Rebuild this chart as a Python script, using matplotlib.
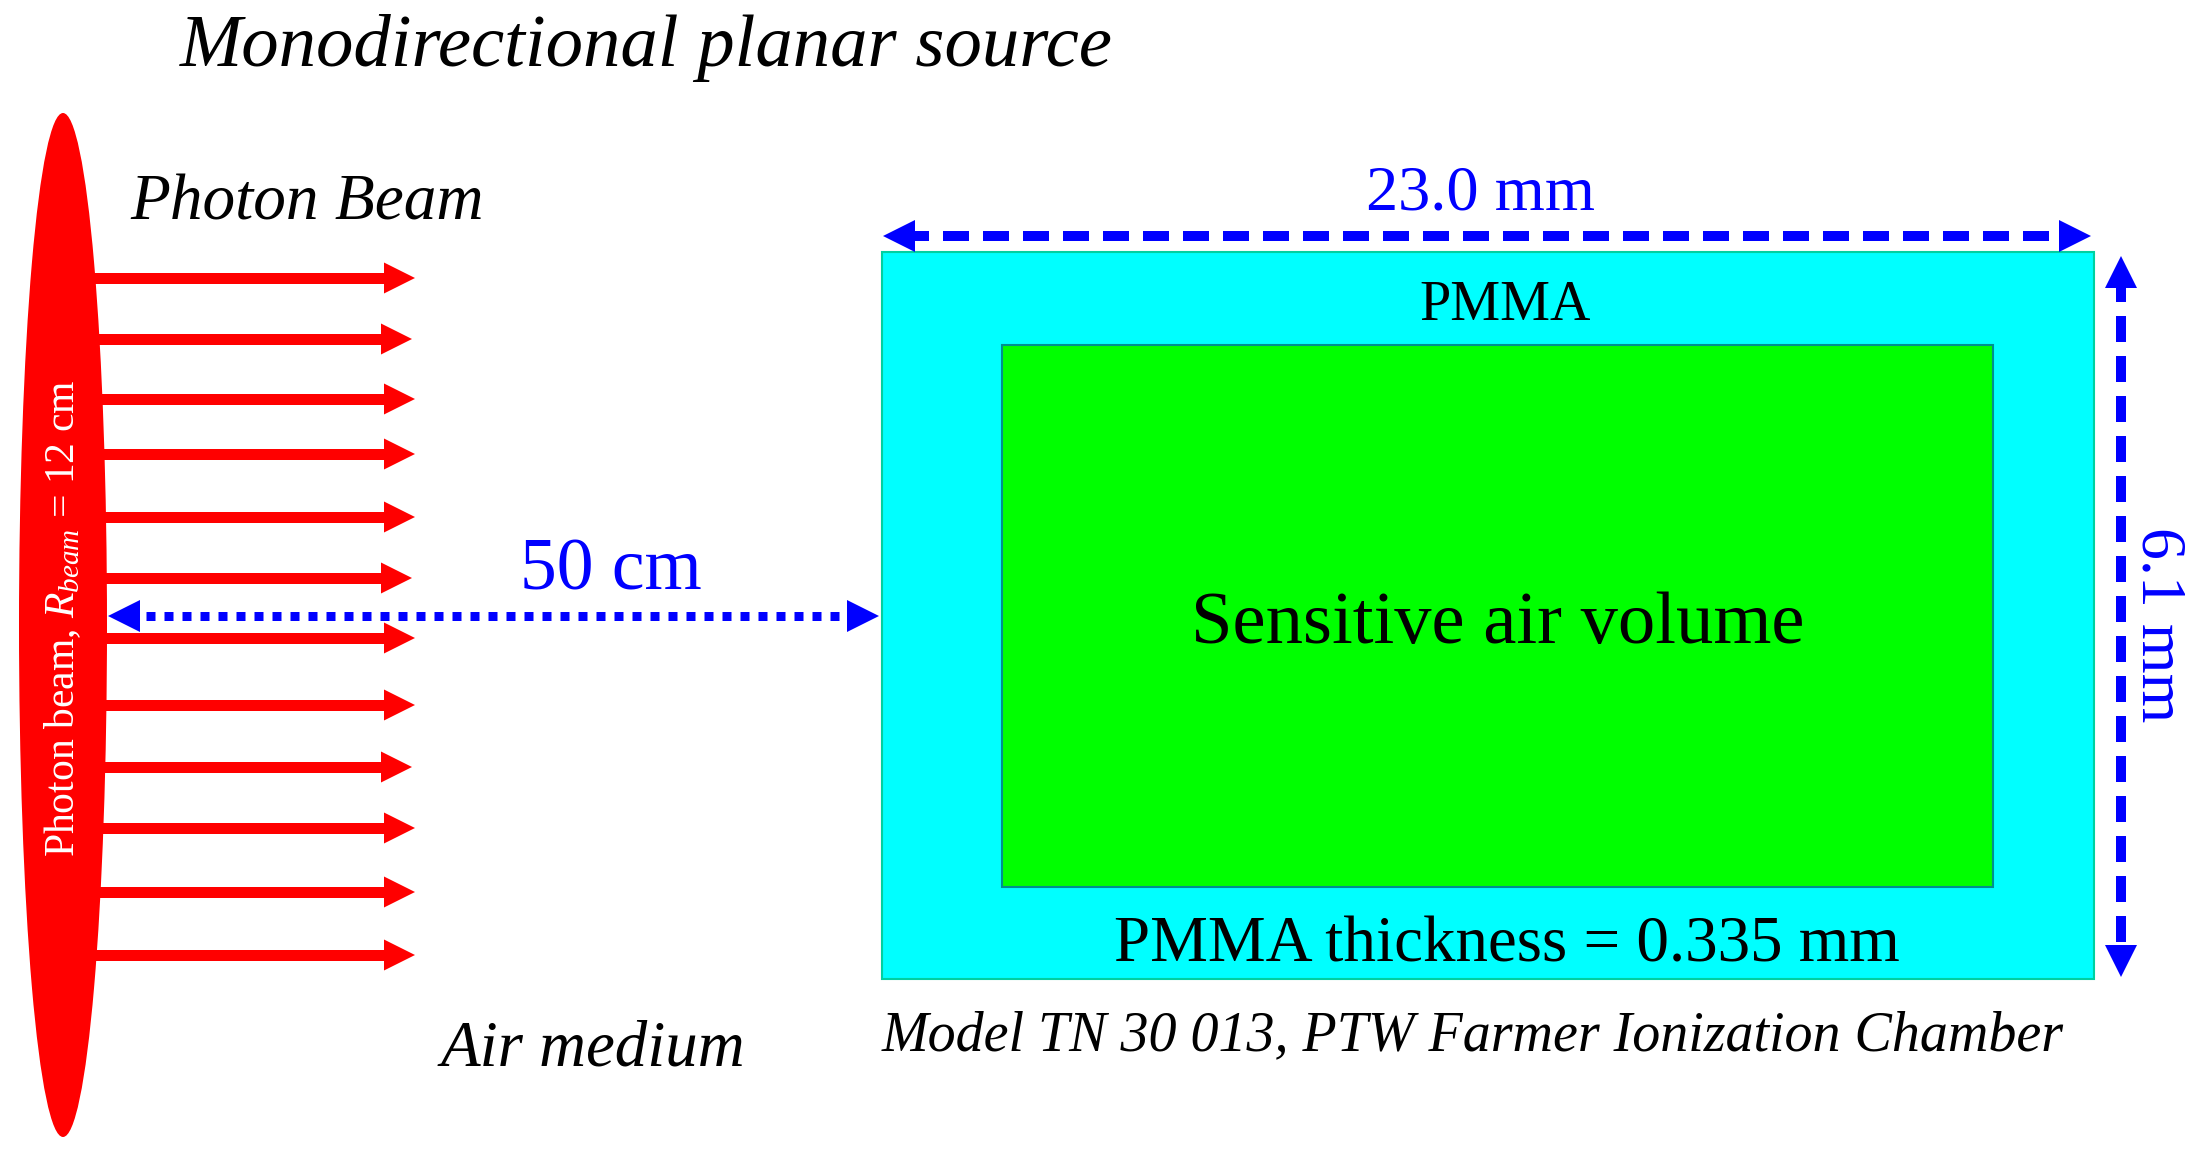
import matplotlib

matplotlib.use("Agg")
import matplotlib.pyplot as plt
from matplotlib.patches import Ellipse, Rectangle

plt.rcParams["font.family"] = ["Liberation Serif", "DejaVu Serif"]
plt.rcParams["mathtext.fontset"] = "custom"
plt.rcParams["mathtext.rm"] = "Liberation Serif"
plt.rcParams["mathtext.it"] = "Liberation Serif:italic"

W, H = 2201, 1155
PX = 0.72  # points per pixel at dpi 100

# beam arrows (reference pixels)
beam_y = [278, 339, 399, 454, 517, 578, 638, 705, 767, 828, 892, 955]
beam_tip_x = [415, 412, 415, 415, 415, 412, 415, 415, 412, 415, 415, 415]

source_box = [19, 113, 107, 1137]
outer_box = [882, 252, 2094, 979]
inner_box = [1002, 345, 1993, 887]

distance_arrow = [108, 616, 879, 616]
width_arrow = [883, 236, 2091, 236]
height_arrow = [2121, 256, 2121, 977]

BLUE = "#0000ff"
RED = "#ff0000"


def head(ax, x0, y0, x1, y1, color, length, width):
    ax.annotate(
        "",
        xy=(x1, y1),
        xytext=(x0, y0),
        arrowprops=dict(
            arrowstyle=f"-|>,head_length={length * PX},head_width={width / 2 * PX}",
            mutation_scale=1,
            lw=0,
            color=color,
            shrinkA=0,
            shrinkB=0,
        ),
    )


def double_arrow(ax, box, dash, lw_px):
    x0, y0, x1, y1 = box
    dx = 1 if x1 > x0 else 0
    dy = 1 if y1 > y0 else 0
    ax.plot(
        [x0 + dx * 20, x1 - dx * 20],
        [y0 + dy * 20, y1 - dy * 20],
        color=BLUE,
        lw=lw_px * PX,
        linestyle=(0, dash),
        solid_capstyle="butt",
        dash_capstyle="butt",
        zorder=4,
    )
    head(ax, x0 + dx * 30, y0 + dy * 30, x0, y0, BLUE, 32, 32)
    head(ax, x1 - dx * 30, y1 - dy * 30, x1, y1, BLUE, 32, 32)


fig = plt.figure(figsize=(W / 100, H / 100), dpi=100)
ax = fig.add_axes([0, 0, 1, 1])
ax.set_xlim(0, W)
ax.set_ylim(H, 0)
ax.axis("off")

# source and photon arrows
for y, tip in zip(beam_y, beam_tip_x):
    ax.plot([62, tip - 25], [y, y], color=RED, lw=11 * PX, solid_capstyle="butt", zorder=2)
    head(ax, tip - 30, y, tip, y, RED, 31, 31)
ax.add_patch(
    Ellipse(
        ((source_box[0] + source_box[2]) / 2, (source_box[1] + source_box[3]) / 2),
        source_box[2] - source_box[0],
        source_box[3] - source_box[1],
        color=RED,
        lw=0,
        zorder=3,
    )
)

# chamber
ax.add_patch(
    Rectangle(
        (outer_box[0], outer_box[1]),
        outer_box[2] - outer_box[0],
        outer_box[3] - outer_box[1],
        facecolor="#00ffff",
        edgecolor="#00d0a0",
        lw=1.5,
    )
)
ax.add_patch(
    Rectangle(
        (inner_box[0], inner_box[1]),
        inner_box[2] - inner_box[0],
        inner_box[3] - inner_box[1],
        facecolor="#00ff00",
        edgecolor="#008f8f",
        lw=1.5,
    )
)

double_arrow(ax, distance_arrow, (1.0, 1.0), 9)
double_arrow(ax, width_arrow, (2.6, 1.4), 10)
double_arrow(ax, height_arrow, (2.6, 1.4), 10)

# labels
ax.text(180, 66, "Monodirectional planar source", fontsize=53.8, style="italic", va="baseline")
ax.text(130, 219, "Photon Beam", fontsize=47, style="italic", va="baseline")
ax.text(441, 1066, "Air medium", fontsize=46.7, style="italic", va="baseline")
ax.text(611, 590, "50 cm", fontsize=53, color=BLUE, ha="center", va="baseline")
ax.text(1481, 209, "23.0 mm", fontsize=46.4, color=BLUE, ha="center", va="baseline")
ax.text(1505, 320, "PMMA", fontsize=40.4, ha="center", va="baseline")
ax.text(1498, 643, "Sensitive air volume", fontsize=53.7, ha="center", va="baseline")
ax.text(1507, 961, "PMMA thickness = 0.335 mm", fontsize=46.8, ha="center", va="baseline")
ax.text(882, 1050, "Model TN 30 013, PTW Farmer Ionization Chamber", fontsize=40.3, style="italic", va="baseline")
ax.text(
    2158, 625, "6.1 mm", fontsize=46, color=BLUE, rotation=-90,
    ha="center", va="center", rotation_mode="anchor",
)
ax.text(
    63, 618, r"Photon beam, $\mathit{R}_{\mathit{beam}}$ = 12 cm", fontsize=30, color="white",
    rotation=90, ha="center", va="center", rotation_mode="anchor", zorder=5,
)

fig.savefig("out.png", dpi=100)
plt.close(fig)
